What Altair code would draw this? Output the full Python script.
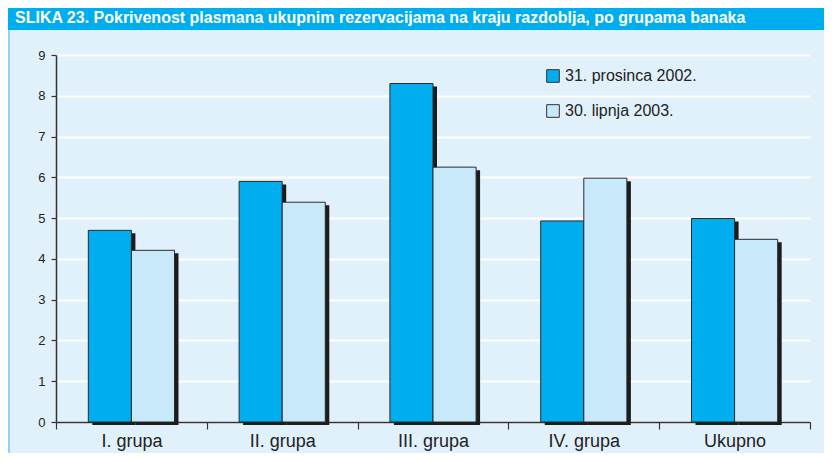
import altair as alt
import pandas as pd

title_text = "SLIKA 23. Pokrivenost plasmana ukupnim rezervacijama na kraju razdoblja, po grupama banaka"
categories = ["I. grupa", "II. grupa", "III. grupa", "IV. grupa", "Ukupno"]
series = ["31. prosinca 2002.", "30. lipnja 2003."]
dec2002 = [4.7, 5.9, 8.3, 4.93, 4.99]
jun2003 = [4.21, 5.39, 6.25, 5.98, 4.48]
y_ticks = [0, 1, 2, 3, 4, 5, 6, 7, 8, 9]

# band layout (in category-step units) shared by bars and their shadows
OUTER = 0.75
bar_w = 1.0 / (2 + 2 * OUTER)
start = OUTER * bar_w

rows = []
for i, (c, a, b) in enumerate(zip(categories, dec2002, jun2003)):
    for j, (s, v) in enumerate(zip(series, (a, b))):
        x0 = i + start + j * bar_w
        rows.append({"cat": c, "series": s, "value": v, "x0": x0, "x1": x0 + bar_w,
                     "base": 0})
df = pd.DataFrame(rows)

FONT = "Liberation Sans"
BG = "#E1F1FB"
DARK = "#00AEEF"
LIGHT = "#C8E9F9"
AXIS = "#333333"

x_enc = alt.X("cat:N", sort=categories, title=None,
              scale=alt.Scale(paddingInner=0, paddingOuter=0),
              axis=alt.Axis(labelAngle=0, labelFontSize=18, labelColor="#222222",
                            labelFont=FONT, tickBand="extent", tickSize=7,
                            tickColor=AXIS, domainColor=AXIS, domainWidth=1.5,
                            tickWidth=1.2, labelPadding=3, grid=False))
xoff_enc = alt.XOffset("series:N", sort=series,
                       scale=alt.Scale(paddingInner=0, paddingOuter=OUTER))
y_scale = alt.Scale(domain=[0, 9], nice=False, zero=True)
y_axis = alt.Axis(values=y_ticks, grid=True, gridColor="white", gridWidth=2,
                  labelFontSize=13, labelColor="#222222", labelFont=FONT,
                  tickSize=5, tickColor=AXIS, domainColor=AXIS,
                  domainWidth=1.5, tickWidth=1.2, labelPadding=6)
y_enc = alt.Y("value:Q", title=None, scale=y_scale, axis=y_axis)

base = alt.Chart(df)

shadow = base.mark_rect(color="#1c1c1c", xOffset=4, x2Offset=4, yOffset=3, y2Offset=3).encode(
    x=alt.X("x0:Q", scale=alt.Scale(domain=[0, len(categories)], nice=False, zero=False),
            axis=None),
    x2="x1:Q",
    y=y_enc,
    y2="base:Q",
)

bars = base.mark_bar(stroke="#2a2a2a", strokeWidth=1).encode(
    x=x_enc, xOffset=xoff_enc, y=y_enc,
    color=alt.Color("series:N", sort=series, title=None,
                    scale=alt.Scale(domain=series, range=[DARK, LIGHT]),
                    legend=alt.Legend(orient="none", legendX=489, legendY=13,
                                      symbolType="square", symbolSize=160,
                                      symbolStrokeColor="#333333", symbolStrokeWidth=1,
                                      symbolOpacity=1, labelFontSize=16, labelFont=FONT,
                                      labelColor="#222222", rowPadding=17, labelOffset=4,
                                      labelLimit=300))
)

tdf = pd.DataFrame({"t": [title_text]})
title_bar = alt.Chart(tdf).mark_rect(color=DARK).encode(
    x=alt.value(-48), x2=alt.value(768), y=alt.value(-47), y2=alt.value(-25)
)
left_border = alt.Chart(tdf).mark_rule(color="#8ED3F4", strokeWidth=2).encode(
    x=alt.value(-47), y=alt.value(-25), y2=alt.value(398)
)
title_txt = alt.Chart(tdf).mark_text(
    align="left", baseline="alphabetic", color="white", fontWeight="bold",
    font=FONT, fontSize=16
).encode(x=alt.value(-41), y=alt.value(-32), text="t:N")

chart = alt.layer(title_bar, left_border, shadow, bars, title_txt).resolve_scale(
    x="independent"
).properties(
    width=754, height=367,
    padding={"left": 48, "top": 47, "right": 14, "bottom": 31},
    autosize=alt.AutoSizeParams(type="none"),
    background=BG,
).configure_view(stroke=None)

chart.save("out.html", embed_options={"renderer": "svg", "actions": False})
